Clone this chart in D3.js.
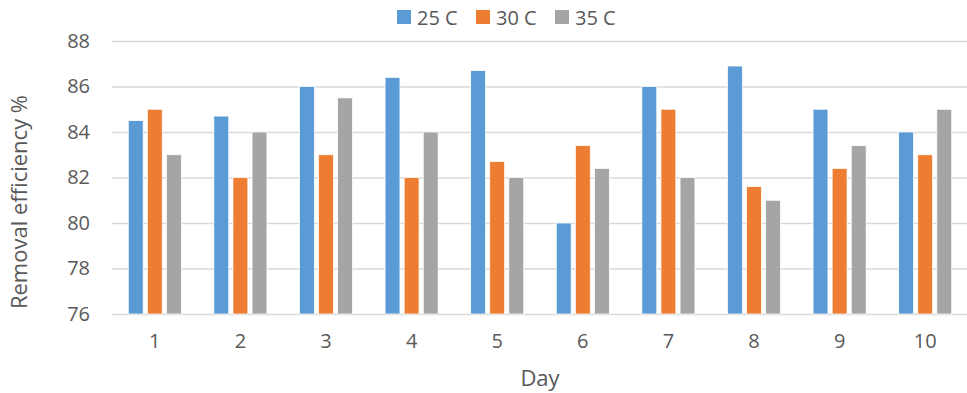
<html>
<head>
  <script src="https://d3js.org/d3.v7.min.js"></script>
  <style>
    body { margin: 0; background: #fff; }
    text { font-family: "Open Sans", sans-serif; fill: #595959; }
    .gridlines .domain { display: none; }
    .gridlines line { stroke: #d9d9d9; stroke-width: 1.5; }
  </style>
</head>
<body>
  <svg width="967" height="393" id="chart"></svg>
  <script>
    const days = ["1", "2", "3", "4", "5", "6", "7", "8", "9", "10"];
    const seriesNames = ["25 C", "30 C", "35 C"];
    const temp25 = [84.5, 84.7, 86, 86.4, 86.7, 80, 86, 86.9, 85, 84];
    const temp30 = [85, 82, 83, 82, 82.7, 83.4, 85, 81.6, 82.4, 83];
    const temp35 = [83, 84, 85.5, 84, 82, 82.4, 82, 81, 83.4, 85];
    const yTicks = [76, 78, 80, 82, 84, 86, 88];
    const colors = ["#5b9bd5", "#ed7d31", "#a5a5a5"];

    const seriesValues = [temp25, temp30, temp35];

    const svg = d3.select("svg#chart");
    const margins = { top: 41, right: 0, bottom: 79, left: 112 };
    const width = 968;
    const chartWidth = width - margins.left - margins.right;
    const chartHeight = 393 - margins.top - margins.bottom;

    const yScale = d3.scaleLinear().domain([76, 88]).range([chartHeight, 0]);
    const xScale = d3.scaleBand().domain(days).range([0, chartWidth])
      .paddingInner(0.38).paddingOuter(0.19);
    const seriesScale = d3.scaleBand().domain(seriesNames).range([0, xScale.bandwidth()])
      .paddingInner(0.22);

    const plot = svg.append("g").attr("transform", `translate(${margins.left},${margins.top})`);

    // gridlines
    plot.append("g").attr("class", "gridlines")
      .call(d3.axisLeft(yScale).tickValues(yTicks).tickSize(-chartWidth).tickFormat(""));

    // y tick labels
    plot.append("g")
      .call(d3.axisLeft(yScale).tickValues(yTicks).tickSize(0).tickPadding(22))
      .call(g => g.select(".domain").remove())
      .selectAll("text")
      .style("font-size", "20px").attr("fill", "#595959");

    // bars
    days.forEach((day, i) => {
      const grp = plot.append("g").attr("transform", `translate(${xScale(day)},0)`);
      grp.selectAll("rect").data(seriesNames.map((s, j) => ({ s, v: seriesValues[j][i], c: colors[j] })))
        .join("rect")
        .attr("x", d => seriesScale(d.s))
        .attr("y", d => yScale(d.v))
        .attr("width", seriesScale.bandwidth())
        .attr("height", d => yScale(76) - yScale(d.v))
        .attr("fill", d => d.c)
        .attr("stroke", "#fff")
        .attr("stroke-width", 0.75);
    });

    // x axis labels
    plot.append("g")
      .attr("transform", `translate(0,${chartHeight})`)
      .call(d3.axisBottom(xScale).tickSize(0).tickPadding(20))
      .call(g => g.select(".domain").remove())
      .selectAll("text")
      .style("font-size", "20px").attr("fill", "#595959");

    // axis titles
    svg.append("text")
      .attr("x", 540).attr("y", 386)
      .attr("text-anchor", "middle")
      .style("font-size", "22px")
      .text("Day");

    svg.append("text")
      .attr("transform", "translate(27,202) rotate(-90)")
      .attr("text-anchor", "middle")
      .style("font-size", "22px")
      .text("Removal efficiency %");

    // legend
    const legendX = [397, 476, 555];
    const legend = svg.append("g");
    seriesNames.forEach((name, j) => {
      legend.append("rect")
        .attr("x", legendX[j]).attr("y", 10)
        .attr("width", 14).attr("height", 14)
        .attr("fill", colors[j]);
      legend.append("text")
        .attr("x", legendX[j] + 20).attr("y", 25)
        .style("font-size", "20px")
        .text(name);
    });
  </script>
</body>
</html>
